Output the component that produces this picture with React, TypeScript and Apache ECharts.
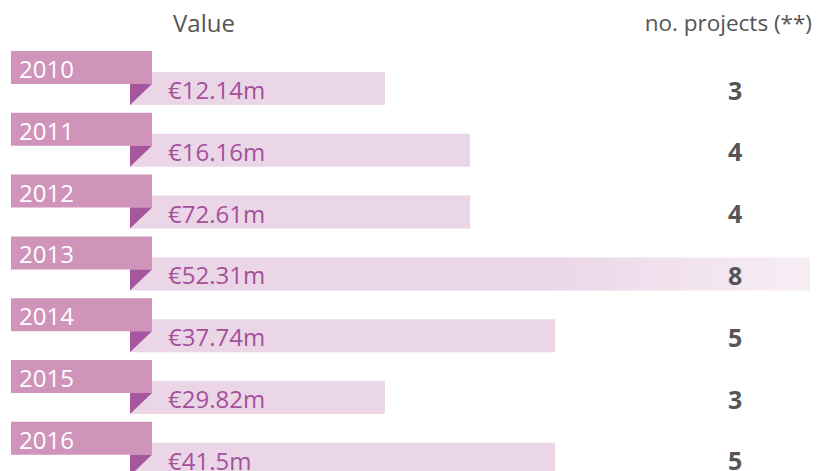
import React, { useEffect, useRef } from 'react';
import * as echarts from 'echarts';

const years = ['2010', '2011', '2012', '2013', '2014', '2015', '2016'];
const valuesM = [12.14, 16.16, 72.61, 52.31, 37.74, 29.82, 41.5];
const projects = [3, 4, 4, 8, 5, 3, 5];
const headerValue = 'Value';
const headerProjects = 'no. projects (**)';

const FONT = '"Open Sans", sans-serif';
const TAB = '#d093b9';
const FOLD = '#a5569c';
const BAR = '#ebd6e7';
const VALTXT = '#a5509b';
const GREY = '#555555';

export default function App() {
  const ref = useRef<HTMLDivElement>(null);
  useEffect(() => {
    if (!ref.current) return;
    const chart = echarts.init(ref.current, undefined, { renderer: 'svg' });
    const maxP = Math.max(...projects);
    const barData = projects.map((p) =>
      p === maxP
        ? {
            value: p,
            itemStyle: {
              color: new echarts.graphic.LinearGradient(0, 0, 1, 0, [
                { offset: 0, color: BAR },
                { offset: 0.62, color: BAR },
                { offset: 1, color: '#f7eef5' },
              ]),
            },
          }
        : { value: p }
    );
    chart.setOption({
      animation: false,
      grid: { left: 130, width: 680, top: 57.6, height: 432.6, containLabel: false },
      xAxis: { type: 'value', min: 0, max: 8, show: false },
      yAxis: { type: 'category', data: years, inverse: true, show: false },
      graphic: [
        {
          type: 'text',
          left: 173,
          top: 10,
          style: { text: headerValue, font: `24px ${FONT}`, fill: GREY },
        },
        {
          type: 'text',
          right: 8,
          top: 11,
          style: { text: headerProjects, font: `22.5px ${FONT}`, fill: GREY },
        },
      ],
      series: [
        {
          type: 'bar',
          data: barData,
          barWidth: 33,
          itemStyle: { color: BAR },
          silent: true,
          label: {
            show: true,
            position: 'insideLeft',
            distance: 38,
            formatter: (p: any) => '€' + valuesM[p.dataIndex] + 'm',
            color: VALTXT,
            fontSize: 24,
            lineHeight: 20,
            fontFamily: FONT,
            offset: [0, 1],
          },
        },
        {
          type: 'custom',
          silent: true,
          z: 5,
          data: years.map((y, i) => [0, i, projects[i]]),
          encode: { x: 0, y: 1 },
          renderItem: (params: any, api: any) => {
            const i = api.value(1);
            const p = api.coord([0, i]);
            const cx = p[0];
            const cy = p[1];
            const countX = api.coord([7.12, i])[0];
            return {
              type: 'group',
              children: [
                {
                  type: 'rect',
                  shape: { x: cx - 119, y: cy - 37.5, width: 141, height: 33 },
                  style: { fill: TAB },
                },
                {
                  type: 'polygon',
                  shape: {
                    points: [
                      [cx, cy - 4.5],
                      [cx + 22, cy - 4.5],
                      [cx, cy + 16.5],
                    ],
                  },
                  style: { fill: FOLD },
                },
                {
                  type: 'text',
                  x: cx - 111,
                  y: cy - 20,
                  style: {
                    text: years[i],
                    fill: '#ffffff',
                    font: `24px ${FONT}`,
                    verticalAlign: 'middle',
                    align: 'left',
                  },
                },
                {
                  type: 'text',
                  x: countX,
                  y: cy + 1,
                  style: {
                    text: String(projects[i]),
                    fill: GREY,
                    font: `bold 25px ${FONT}`,
                    lineHeight: 20,
                    verticalAlign: 'middle',
                    align: 'center',
                  },
                },
              ],
            };
          },
        },
      ],
    });
    return () => chart.dispose();
  }, []);
  return (
    <div
      style={{
        position: 'absolute',
        left: 0,
        top: 0,
        width: 820,
        height: 471,
        overflow: 'hidden',
      }}
    >
      <div ref={ref} style={{ width: 820, height: 500 }} />
    </div>
  );
}
